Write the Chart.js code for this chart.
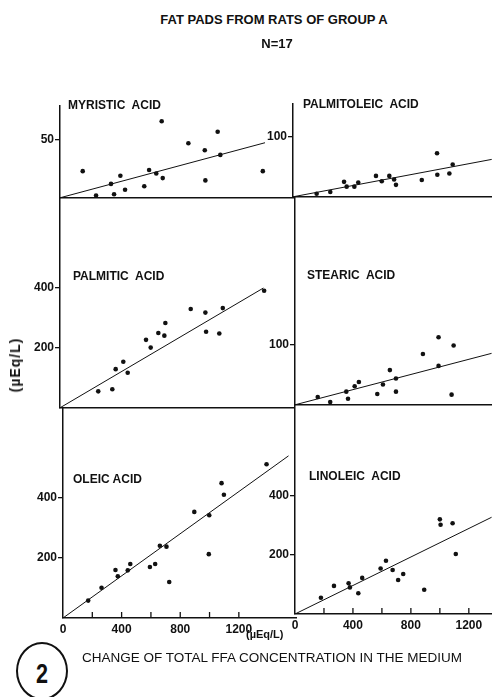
<!DOCTYPE html>
<html>
<head>
<meta charset="utf-8">
<script src="https://cdn.jsdelivr.net/npm/chart.js@4"></script>
<style>
  body { margin: 0; background: #fff; }
  #page {
    position: relative;
    width: 492px;
    height: 697px;
    overflow: hidden;
    background: #fff;
    font-family: "Liberation Sans", Arial, sans-serif;
    color: #111;
  }
  .txt { position: absolute; white-space: pre; font-weight: bold; font-size: 12px; line-height: 1; }
  canvas { position: absolute; }
  #circle {
    position: absolute; left: 16px; top: 642px; width: 52px; height: 58px;
    border: 2px solid #111; border-radius: 50%; box-sizing: border-box;
  }
  #circle span {
    position: absolute; left: 50%; top: 56%; transform: translate(-50%, -50%) scaleX(0.8);
    font-size: 27px; font-weight: bold;
  }
</style>
</head>
<body>
<div id="page">
  <div id="circle"><span>2</span></div>
</div>
<script>
// data (uEq/L)
const myristicX = [155, 246, 348, 369, 412, 444, 575, 608, 657, 701, 694, 876, 988, 992, 1076, 1094, 1384];
const myristicY = [23, 2, 12, 3, 19, 7, 10, 24, 21, 17, 66, 47, 41, 15, 57, 37, 23];
const myristicFit = [1399, 47.5];

const palmitoleicX = [163, 257, 352, 370, 423, 450, 572, 612, 664, 697, 710, 888, 993, 995, 1078, 1101];
const palmitoleicY = [5, 8, 25, 17, 17, 24, 35, 26, 35, 29, 20, 28, 73, 37, 39, 54];
const palmitoleicFit = [1370, 62.6];

const palmiticX = [261, 357, 380, 432, 462, 587, 619, 671, 712, 719, 892, 992, 997, 1087, 1111, 1393];
const palmiticY = [55, 62, 129, 154, 117, 227, 201, 250, 241, 283, 330, 318, 254, 248, 333, 391];
const palmiticFit = [1388, 400];

const stearicX = [157, 243, 354, 366, 412, 441, 568, 607, 655, 697, 697, 883, 991, 991, 1081, 1095];
const stearicY = [13, 4.5, 22, 10, 31, 38, 18, 34, 58, 44, 22, 85, 113, 65, 17, 99];
const stearicFit = [1357, 86];

const oleicX = [172, 263, 358, 374, 442, 459, 593, 629, 661, 706, 725, 896, 998, 995, 1082, 1098, 1389];
const oleicY = [58, 101, 160, 139, 159, 180, 170, 180, 241, 238, 120, 354, 343, 213, 450, 411, 513];
const oleicFit = [1539, 541];

const linoleicX = [179, 269, 370, 379, 437, 464, 591, 628, 674, 712, 747, 892, 1000, 1005, 1088, 1110];
const linoleicY = [55, 95, 104, 90, 70, 122, 154, 180, 149, 115, 135, 82, 320, 302, 307, 203];
const linoleicFit = [1357, 327];

// tick labels
const myristicTicks = [50];
const palmitoleicTicks = [100];
const palmiticTicks = [200, 400];
const stearicTicks = [100];
const oleicTicks = [200, 400];
const linoleicTicks = [200, 400];
const xTickLabels = [0, 400, 800, 1200];
const xTickMarks = [200, 400, 600, 800, 1000, 1200];

const page = document.getElementById("page");
const ink = "#111";
const tickFont = { family: "'Liberation Sans', Arial, sans-serif", size: 12, weight: "bold" };

const panels = [
  { label: "MYRISTIC  ACID", xs: myristicX, ys: myristicY, fit: myristicFit, yTicks: myristicTicks,
    axisX: 60, top: 106, base: 198, xMax: 1590, yMax: 79, pxX: 0.1465, lx: 68, ly: 105, bottom: false },
  { label: "PALMITOLEIC  ACID", xs: palmitoleicX, ys: palmitoleicY, fit: palmitoleicFit, yTicks: palmitoleicTicks,
    axisX: 293, top: 104, base: 197, xMax: 1372, yMax: 155, pxX: 0.145, lx: 303, ly: 104, bottom: false },
  { label: "PALMITIC  ACID", xs: palmiticX, ys: palmiticY, fit: palmiticFit, yTicks: palmiticTicks,
    axisX: 60, top: 198, base: 408, xMax: 1590, yMax: 700, pxX: 0.1465, lx: 73, ly: 276, bottom: false },
  { label: "STEARIC  ACID", xs: stearicX, ys: stearicY, fit: stearicFit, yTicks: stearicTicks,
    axisX: 295, top: 197, base: 405, xMax: 1360, yMax: 347, pxX: 0.145, lx: 307, ly: 275, bottom: false },
  { label: "OLEIC ACID", xs: oleicX, ys: oleicY, fit: oleicFit, yTicks: oleicTicks,
    axisX: 62.5, top: 408, base: 618, xMax: 1590, yMax: 700, pxX: 0.1465, lx: 73, ly: 479, bottom: true },
  { label: "LINOLEIC  ACID", xs: linoleicX, ys: linoleicY, fit: linoleicFit, yTicks: linoleicTicks,
    axisX: 295, top: 405, base: 614, xMax: 1360, yMax: 706, pxX: 0.145, lx: 309, ly: 476, bottom: true },
];

// short tick marks pointing up into the plot from the x axis
const innerTicks = {
  id: "innerTicks",
  afterDatasetsDraw(chart, args, opts) {
    if (!opts.values) return;
    const sx = chart.scales.x;
    const y0 = chart.chartArea.bottom;
    const ctx = chart.ctx;
    ctx.save();
    ctx.strokeStyle = ink;
    ctx.lineWidth = 1.3;
    opts.values.forEach((v) => {
      const px = sx.getPixelForValue(v);
      ctx.beginPath();
      ctx.moveTo(px, y0);
      ctx.lineTo(px, y0 - 6);
      ctx.stroke();
    });
    ctx.restore();
  },
};

function addText(str, left, cy, css) {
  const d = document.createElement("div");
  d.className = "txt";
  d.textContent = str;
  d.style.left = left + "px";
  d.style.top = cy + "px";
  d.style.transform = "translateY(-50%)";
  if (css) Object.assign(d.style, css);
  page.appendChild(d);
  return d;
}

function makeChart(p, w, h) {
  const canvas = document.createElement("canvas");
  canvas.width = w;
  canvas.height = h;
  page.appendChild(canvas);
  const points = p.xs.map((x, i) => ({ x: x, y: p.ys[i] }));
  return new Chart(canvas, {
    type: "scatter",
    data: {
      datasets: [
        {
          data: points,
          pointRadius: 2.3,
          pointBackgroundColor: ink,
          pointBorderWidth: 0,
          clip: false,
        },
        {
          type: "line",
          data: [{ x: 0, y: 0 }, { x: p.fit[0], y: p.fit[1] }],
          borderColor: ink,
          borderWidth: 1,
          pointRadius: 0,
          tension: 0,
        },
      ],
    },
    options: {
      responsive: false,
      maintainAspectRatio: false,
      animation: false,
      events: [],
      layout: { padding: 0 },
      plugins: {
        legend: { display: false },
        tooltip: { enabled: false },
        innerTicks: { values: p.bottom ? xTickMarks : null },
      },
      scales: {
        x: {
          type: "linear",
          min: 0,
          max: p.xMax,
          grid: { drawOnChartArea: false, drawTicks: false },
          border: { color: ink, width: 1.5 },
          ticks: {
            display: p.bottom, color: ink, font: tickFont, padding: 4, maxRotation: 0,
            callback: (v) => String(v),
          },
          afterBuildTicks: (s) => { s.ticks = xTickLabels.map((v) => ({ value: v })); },
          afterFit: (s) => { s.height = p.bottom ? 20 : 1; },
        },
        y: {
          type: "linear",
          min: 0,
          max: p.yMax,
          grid: { drawOnChartArea: false, drawTicks: true, tickLength: 5, color: ink, lineWidth: 1.3 },
          border: { color: ink, width: 1.5 },
          ticks: { color: ink, font: tickFont, padding: 1, callback: (v) => String(v) },
          afterBuildTicks: (s) => { s.ticks = p.yTicks.map((v) => ({ value: v })); },
          afterFit: (s) => { s.width = 40; },
        },
      },
    },
    plugins: [innerTicks],
  });
}

panels.forEach((p) => {
  const wantW = p.xMax * p.pxX;
  const wantH = p.base - p.top;
  let w = Math.round(wantW + 45);
  let h = Math.round(wantH + 40);
  let chart = makeChart(p, w, h);
  let ca = chart.chartArea;
  w = Math.round(w + wantW - (ca.right - ca.left));
  h = Math.round(h + wantH - (ca.bottom - ca.top));
  const old = chart.canvas;
  chart.destroy();
  old.remove();
  chart = makeChart(p, w, h);
  ca = chart.chartArea;
  chart.canvas.style.left = (p.axisX - ca.left) + "px";
  chart.canvas.style.top = (p.base - ca.bottom) + "px";
  addText(p.label, p.lx, p.ly);
});

// titles and captions
const t1 = addText("FAT PADS FROM RATS OF GROUP A", 274, 19, { fontSize: "13px" });
t1.style.transform = "translate(-50%, -50%)";
const t2 = addText("N=17", 277, 43, { fontSize: "13px" });
t2.style.transform = "translate(-50%, -50%)";

const yt = addText("(\u00b5Eq/L)", 15, 365, { fontSize: "14px", letterSpacing: "1px" });
yt.style.transform = "translate(-50%, -50%) rotate(-90deg)";

addText("(\u00b5Eq/L)", 246, 634, { fontSize: "11px" });
addText("CHANGE OF TOTAL FFA CONCENTRATION IN THE MEDIUM", 82, 658, { fontSize: "13.5px", fontWeight: "normal" });
</script>
</body>
</html>
